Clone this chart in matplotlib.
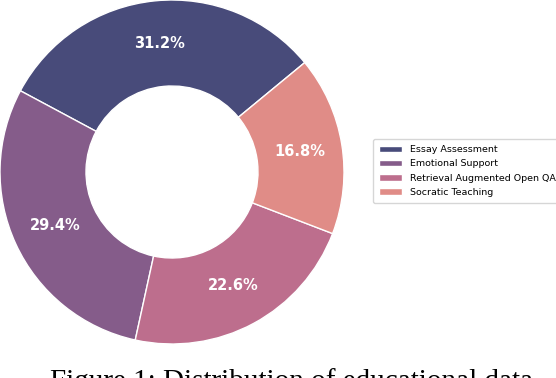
import matplotlib
matplotlib.use("Agg")
import matplotlib.pyplot as plt

categories = ["Essay Assessment", "Emotional Support", "Retrieval Augmented Open QA", "Socratic Teaching"]
values = [31.2, 29.4, 22.6, 16.8]
colors = ["#484b7a", "#855c8a", "#bd6e8d", "#e08c87"]
caption = "Figure 1: Distribution of educational data"

W, H = 556, 378
fig = plt.figure(figsize=(W / 100, H / 100), dpi=100)
ax = fig.add_axes([0, 1 - 344 / H, 344 / W, 344 / H])
wedges, texts, autotexts = ax.pie(
    values, colors=colors, startangle=39.5, counterclock=True,
    autopct="%1.1f%%", pctdistance=0.75,
    wedgeprops=dict(width=0.5, edgecolor="white", linewidth=1),
    textprops=dict(color="white", fontsize=10.5, fontweight="bold"),
)
ax.set_xlim(-1.0, 1.0)
ax.set_ylim(-1.0, 1.0)
ax.set_aspect("equal")
ax.axis("off")

fig.legend(wedges, categories, loc="center left",
           bbox_to_anchor=(368 / W, 1 - 171 / H), fontsize=6.8,
           frameon=True, handlelength=2.5, handleheight=0.7,
           labelspacing=0.55, borderpad=0.65)

fig.text(50 / W, 1 - 368 / H, caption, ha="left", va="top",
         fontsize=21, family="Liberation Serif")

fig.savefig("out.png", dpi=100)
